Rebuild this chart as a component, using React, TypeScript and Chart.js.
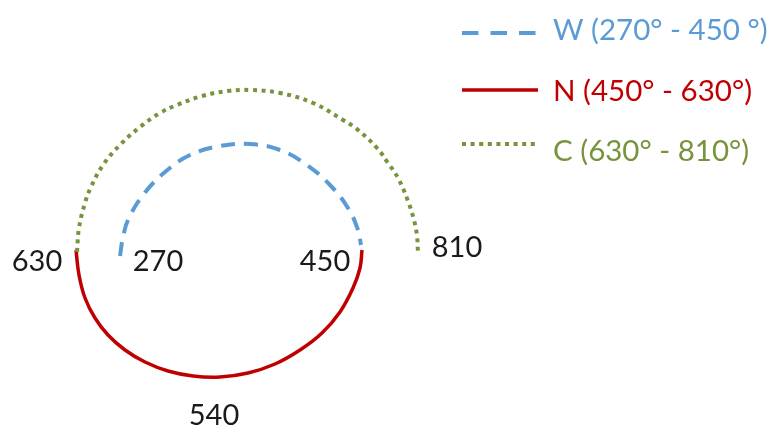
import { useEffect, useRef } from 'react';
import { Chart, registerables } from 'chart.js';

Chart.register(...registerables);

// Series names (legend)
const seriesNames = ['W (270° - 450 °)', 'N (450° - 630°)', 'C (630° - 810°)'];
const seriesColors = ['#5B9BD5', '#C00000', '#77933C'];

// W arc (blue dashed)
const wX = [120, 123, 128, 143, 165, 190, 220, 250, 280, 307, 330, 348, 358, 361];
const wY = [256, 237, 220, 195, 172, 155, 146, 144, 150, 165, 185, 208, 230, 245];

// N arc (red solid)
const nX = [76, 79, 85, 95, 108, 125, 145, 168, 193, 220, 248, 275, 300, 322, 340, 353, 360, 362];
const nY = [250, 275, 298, 318, 335, 350, 362, 371, 376, 377, 373, 364, 350, 333, 312, 288, 268, 250];

// C arc (green dotted)
const cX = [77, 79, 85, 91, 103, 120, 140, 160, 177, 202, 228, 250, 280, 313, 343, 358, 377, 388, 398, 408, 414, 417, 418];
const cY = [252, 228, 203, 187, 165, 145, 127, 113, 105, 96, 91, 90, 93, 103, 120, 130, 148, 163, 178, 201, 220, 236, 253];

// Angle labels
const labelTexts = ['630', '270', '450', '810', '540'];
const labelX = [37, 158, 325, 457, 214];
const labelY = [262, 262, 262, 248, 416];

const FONT = 'Lato, "Open Sans", sans-serif';
const LABEL_SIZE = 29;
const LEGEND_SIZE = 29.5;

const toPoints = (xs: number[], ys: number[]) => xs.map((x, i) => ({ x, y: ys[i] }));

const labelsPlugin = {
  id: 'angleLabels',
  afterDatasetsDraw(chart: any) {
    const { ctx, scales } = chart;
    ctx.save();
    ctx.font = `${LABEL_SIZE}px ${FONT}`;
    ctx.fillStyle = '#1a1a1a';
    ctx.textAlign = 'center';
    ctx.textBaseline = 'middle';
    labelTexts.forEach((t, i) => {
      ctx.fillText(t, scales.x.getPixelForValue(labelX[i]), scales.y.getPixelForValue(labelY[i]));
    });
    ctx.restore();
  },
};

const legendPlugin = {
  id: 'customLegend',
  afterDraw(chart: any) {
    const { ctx } = chart;
    const lineRows = [33, 90, 144];
    const textRows = [30, 91, 151];
    const dashes = [[16.5, 12], [], [4, 4.6]];
    const widths = [4, 3.5, 4];
    ctx.save();
    chart.data.datasets.forEach((ds: any, i: number) => {
      const y = lineRows[i];
      ctx.beginPath();
      ctx.setLineDash(dashes[i]);
      ctx.lineWidth = widths[i];
      ctx.strokeStyle = ds.borderColor;
      ctx.lineCap = 'butt';
      ctx.moveTo(462, y);
      ctx.lineTo(538, y);
      ctx.stroke();
      ctx.setLineDash([]);
      ctx.font = `${LEGEND_SIZE}px ${FONT}`;
      ctx.fillStyle = ds.borderColor;
      ctx.textAlign = 'left';
      ctx.textBaseline = 'middle';
      ctx.fillText(ds.label, 553, textRows[i]);
    });
    ctx.restore();
  },
};

export default function App() {
  const ref = useRef<HTMLCanvasElement>(null);
  useEffect(() => {
    if (!ref.current) return;
    const common = {
      showLine: true,
      pointRadius: 0,
      pointHoverRadius: 0,
      fill: false,
      tension: 0.4,
      borderCapStyle: 'butt',
    };
    const chart = new Chart(ref.current, {
      type: 'scatter',
      data: {
        datasets: [
          {
            ...common,
            label: seriesNames[0],
            data: toPoints(wX, wY),
            borderColor: seriesColors[0],
            borderWidth: 4,
            borderDash: [14, 9],
            order: 3,
          },
          {
            ...common,
            label: seriesNames[1],
            data: toPoints(nX, nY),
            borderColor: seriesColors[1],
            borderWidth: 3.5,
            order: 2,
          },
          {
            ...common,
            label: seriesNames[2],
            data: toPoints(cX, cY),
            borderColor: seriesColors[2],
            borderWidth: 4,
            borderDash: [4, 4.6],
            order: 1,
          },
        ] as any,
      },
      options: {
        animation: false,
        responsive: false,
        layout: { padding: 0 },
        plugins: { legend: { display: false }, tooltip: { enabled: false } },
        scales: {
          x: { type: 'linear', min: 0, max: 776, display: false },
          y: { type: 'linear', min: 0, max: 429, reverse: true, display: false },
        },
      },
      plugins: [labelsPlugin, legendPlugin],
    });
    return () => chart.destroy();
  }, []);
  return (
    <canvas
      ref={ref}
      width={776}
      height={429}
      style={{ position: 'absolute', left: 0, top: 0, display: 'block', background: '#fff' }}
    />
  );
}
